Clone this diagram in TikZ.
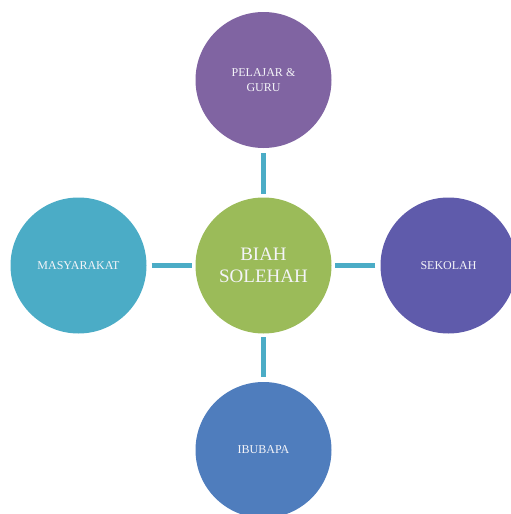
\documentclass[tikz,border=0pt]{standalone}
\usepackage{fontspec}
\setmainfont{Liberation Serif}
\usepackage{tikz}
\definecolor{biah green}{HTML}{9BBB59}
\definecolor{biah purple}{HTML}{8064A2}
\definecolor{biah indigo}{HTML}{5F5BAB}
\definecolor{biah blue}{HTML}{4F7DBD}
\definecolor{biah aqua}{HTML}{4BACC6}
\definecolor{biah text}{HTML}{F4F4F8}

\tikzset{
	bubble/.style = {circle, minimum size = 136pt, inner sep = 0pt, text = biah text,
		align = center, font = \fontsize{12}{14.4}\selectfont},
	spoke/.style = {draw = biah aqua, line width = 5pt, shorten <= 5pt, shorten >= 3pt}
}

\begin{document}
\begin{tikzpicture}[x = 1pt, y = -1pt]
		\useasboundingbox (0, 0) rectangle (511, 514);
		% centre
		\node[bubble, fill = biah green, font = \fontsize{19}{22}\selectfont] (biah) at (263.5, 265.5) {BIAH\\SOLEHAH};
		% outer circles
		\node[bubble, fill = biah purple] (pelajar) at (263.5, 80) {PELAJAR \&\\GURU};
		\node[bubble, fill = biah aqua] (masyarakat) at (78.5, 265.5) {MASYARAKAT};
		\node[bubble, fill = biah indigo] (sekolah) at (448.5, 265.5) {SEKOLAH};
		\node[bubble, fill = biah blue] (ibubapa) at (263.5, 450) {IBUBAPA};
		% spokes
		\draw[spoke] (pelajar) -- (biah);
		\draw[spoke] (masyarakat) -- (biah);
		\draw[spoke] (sekolah) -- (biah);
		\draw[spoke] (ibubapa) -- (biah);
	\end{tikzpicture}
\end{document}
